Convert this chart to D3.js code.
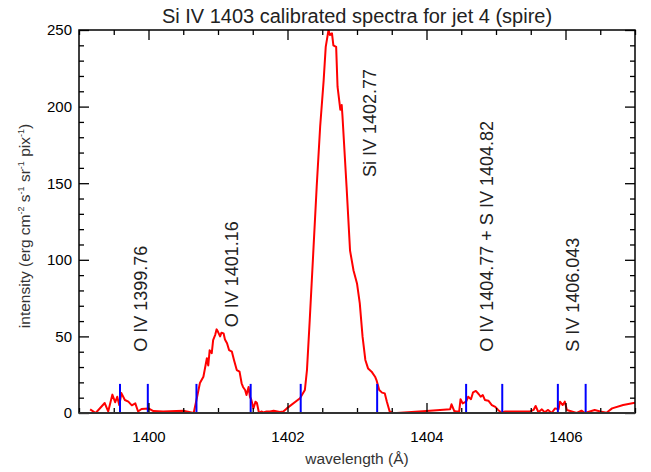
<!DOCTYPE html>
<html>
<head>
<meta charset="utf-8">
<script src="https://cdn.jsdelivr.net/npm/d3@7"></script>
<style>
  body { margin: 0; background: #fff; }
  svg { font-family: "Liberation Sans", Arial, Helvetica, sans-serif; }
</style>
</head>
<body>
<svg width="651" height="472"></svg>
<script>
// spectrum (wavelength in A, intensity)
var wavelength = [1399.16, 1399.24, 1399.37, 1399.42, 1399.48, 1399.52, 1399.55, 1399.58, 1399.61, 1399.66,
  1399.71, 1399.76, 1399.81, 1399.85, 1399.90, 1400.00, 1400.07, 1400.21, 1400.50, 1400.65,
  1400.69, 1400.74, 1400.79, 1400.84, 1400.86, 1400.88, 1400.91, 1400.93, 1400.96, 1400.98,
  1401.00, 1401.03, 1401.05, 1401.08, 1401.10, 1401.13, 1401.16, 1401.20, 1401.23, 1401.27,
  1401.31, 1401.34, 1401.36, 1401.39, 1401.41, 1401.44, 1401.46, 1401.48, 1401.51, 1401.54,
  1401.56, 1401.59, 1401.63, 1401.65, 1401.70, 1401.75, 1401.80, 1401.89, 1401.94, 1401.99,
  1402.18, 1402.25, 1402.28, 1402.32, 1402.37, 1402.42, 1402.47, 1402.52, 1402.55, 1402.59,
  1402.61, 1402.64, 1402.66, 1402.70, 1402.72, 1402.76, 1402.78, 1402.79, 1402.85, 1402.90,
  1402.95, 1403.00, 1403.04, 1403.08, 1403.12, 1403.16, 1403.21, 1403.26, 1403.28, 1403.32,
  1403.36, 1403.40, 1403.43, 1403.47, 1403.52, 1403.57, 1404.00, 1404.34, 1404.36, 1404.40,
  1404.43, 1404.47, 1404.49, 1404.52, 1404.57, 1404.60, 1404.64, 1404.67, 1404.71, 1404.75,
  1404.78, 1404.81, 1404.84, 1404.89, 1404.94, 1404.99, 1405.03, 1405.08, 1405.13, 1405.49,
  1405.54, 1405.57, 1405.61, 1405.66, 1405.70, 1405.75, 1405.80, 1405.85, 1405.90, 1405.92,
  1405.96, 1405.99, 1406.02, 1406.09, 1406.16, 1406.23, 1406.28, 1406.35, 1406.42, 1406.50,
  1406.59, 1406.67, 1406.83, 1407.00];
var intensity = [2.4, 0, 6.5, 1, 12, 7, 10.6, 5, 13, 8.5,
  7.4, 5, 6.3, 1, 2.6, 3, 1.3, 1, 1.5, 0,
  8.5, 19.6, 23.7, 35.7, 31, 41, 39, 47.6, 51, 54.6,
  53, 50, 52.4, 52, 48, 45.5, 41, 40, 34.6, 28,
  27, 19.4, 17, 15, 11.7, 17, 10.6, 8.5, 3, 7.4,
  6.5, 0, 1, 0.3, 1, 1, 1.5, 0.7, 1, 3,
  9.6, 15, 28, 60.7, 104, 147.7, 187, 217, 239, 250,
  246.7, 247.8, 240, 239, 213, 198, 201, 194.5, 147.7, 106,
  93, 84.6, 71.6, 49.8, 34.6, 29, 27, 23.7, 21.5, 15,
  13.3, 12.8, 7.4, 1, 0, 0, 1.3, 2.4, 5.7, 1.3,
  1, 1, 9, 6.3, 7.4, 10.6, 9, 13.5, 14.4, 12.4,
  10.6, 11.7, 8.5, 8, 5.2, 4, 2, 0.2, 1, 1,
  2, 4.6, 0.5, 2.4, 0.5, 2, 0, 3, 2.4, 7.4,
  5.2, 7.4, 2, 1, 0, 1.5, 0, 1, 2, 1,
  0.2, 3, 5.2, 6.7];

// integration window edges (blue markers)
var windowEdges = [1399.59, 1399.99, 1400.69, 1401.47, 1402.19, 1403.29, 1404.57, 1405.09, 1405.89, 1406.29];
var windowHeight = 19;

// line identifications
var lineNames = ["O IV 1399.76", "O IV 1401.16", "Si IV 1402.77", "O IV 1404.77 + S IV 1404.82", "S IV 1406.043"];
var lineLabelX = [1399.98, 1401.29, 1403.28, 1404.96, 1406.19];
var lineLabelY = [40, 56, 154, 40, 40];

var xMajor = [1400, 1402, 1404, 1406];
var yMajor = [0, 50, 100, 150, 200, 250];

var margin = {top: 30, right: 16, bottom: 59, left: 79};
var width = 651 - margin.left - margin.right;
var height = 472 - margin.top - margin.bottom;

var svg = d3.select("svg");
var g = svg.append("g").attr("transform", "translate(" + margin.left + "," + margin.top + ")");

var x = d3.scaleLinear().domain([1399, 1407]).range([0, width]);
var y = d3.scaleLinear().domain([0, 250]).range([height, 0]);

var xMinor = d3.range(1399, 1407.001, 0.5).filter(function(v){ return xMajor.indexOf(v) < 0; });
var yMinor = d3.range(0, 250.001, 10).filter(function(v){ return yMajor.indexOf(v) < 0; });

g.append("clipPath").attr("id", "clip")
  .append("rect").attr("width", width).attr("height", height);

// spectrum
var line = d3.line()
  .x(function(d, i){ return x(wavelength[i]); })
  .y(function(d){ return y(d); });

g.append("path")
  .datum(intensity)
  .attr("clip-path", "url(#clip)")
  .attr("fill", "none")
  .attr("stroke", "#ff0000")
  .attr("stroke-width", 2)
  .attr("stroke-linejoin", "round")
  .attr("d", line);

// window markers
g.selectAll(".edge")
  .data(windowEdges)
  .enter().append("line")
  .attr("class", "edge")
  .attr("x1", function(d){ return x(d); })
  .attr("x2", function(d){ return x(d); })
  .attr("y1", y(0))
  .attr("y2", y(windowHeight))
  .attr("stroke", "#0000ff")
  .attr("stroke-width", 2);

// axes, ticks pointing inward on all four sides
function styleAxis(sel){
  sel.select(".domain").remove();
  sel.selectAll(".tick line").attr("stroke", "#000").attr("stroke-width", 1.3);
  sel.selectAll("text").attr("fill", "#000").style("font-size", "15px");
}

g.append("g").attr("transform", "translate(0," + height + ")")
  .call(d3.axisBottom(x).tickValues(xMajor).tickSize(-10).tickPadding(18).tickFormat(d3.format("d")))
  .call(styleAxis);
g.append("g").attr("transform", "translate(0," + height + ")")
  .call(d3.axisBottom(x).tickValues(xMinor).tickSize(-5).tickFormat(""))
  .call(styleAxis);
g.append("g")
  .call(d3.axisTop(x).tickValues(xMajor).tickSize(-10).tickFormat(""))
  .call(styleAxis);
g.append("g")
  .call(d3.axisTop(x).tickValues(xMinor).tickSize(-5).tickFormat(""))
  .call(styleAxis);

g.append("g")
  .call(d3.axisLeft(y).tickValues(yMajor).tickSize(-10).tickPadding(7).tickFormat(d3.format("d")))
  .call(styleAxis);
g.append("g")
  .call(d3.axisLeft(y).tickValues(yMinor).tickSize(-5).tickFormat(""))
  .call(styleAxis);
g.append("g").attr("transform", "translate(" + width + ",0)")
  .call(d3.axisRight(y).tickValues(yMajor).tickSize(-10).tickFormat(""))
  .call(styleAxis);
g.append("g").attr("transform", "translate(" + width + ",0)")
  .call(d3.axisRight(y).tickValues(yMinor).tickSize(-5).tickFormat(""))
  .call(styleAxis);

// frame
g.append("rect")
  .attr("width", width).attr("height", height)
  .attr("fill", "none").attr("stroke", "#000").attr("stroke-width", 1.5);
g.append("line")
  .attr("x1", 0).attr("x2", width).attr("y1", height).attr("y2", height)
  .attr("stroke", "#333").attr("stroke-width", 2);

// line labels, rotated
g.selectAll(".lbl")
  .data(lineNames)
  .enter().append("text")
  .attr("class", "lbl")
  .attr("transform", function(d, i){
    return "translate(" + x(lineLabelX[i]) + "," + y(lineLabelY[i]) + ") rotate(-90)";
  })
  .attr("fill", "#222")
  .style("font-size", "18px")
  .text(function(d){ return d; });

// titles
svg.append("text")
  .attr("x", margin.left + width / 2).attr("y", 23)
  .attr("text-anchor", "middle")
  .attr("fill", "#222")
  .style("font-size", "20px")
  .text("Si IV 1403 calibrated spectra for jet 4 (spire)");

svg.append("text")
  .attr("x", margin.left + width / 2).attr("y", 464)
  .attr("text-anchor", "middle")
  .attr("fill", "#333")
  .style("font-size", "15.5px")
  .text("wavelength (\u00c5)");

var yt = svg.append("text")
  .attr("transform", "translate(30,226) rotate(-90)")
  .attr("text-anchor", "middle")
  .attr("fill", "#333")
  .style("font-size", "15.5px");
var yParts = ["intensity (erg cm", " s", " sr", " pix", ")"];
var ySups = ["-2", "-1", "-1", "-1"];
yParts.forEach(function(p, i){
  yt.append("tspan").attr("dy", i > 0 ? 6 : 0).text(p);
  if (i < ySups.length) {
    yt.append("tspan").attr("dy", -6).style("font-size", "9px").text(ySups[i]);
  }
});
</script>
</body>
</html>
